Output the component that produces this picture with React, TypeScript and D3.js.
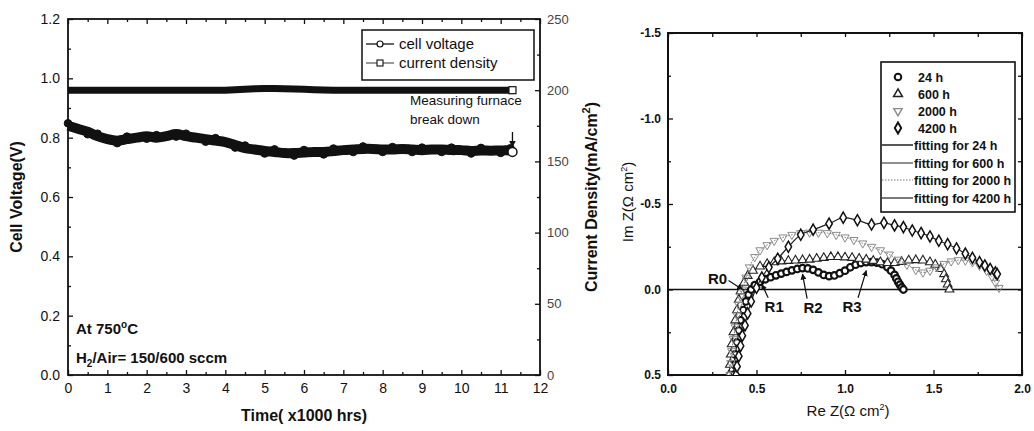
import React, { useRef, useEffect } from 'react';
import * as d3 from 'd3';

// long-term test: time (x1000 h), cell voltage (V), current density (mA/cm2)
const timeK = [0, 0.25, 0.5, 0.75, 1, 1.25, 1.5, 1.75, 2, 2.25, 2.5, 2.75, 3, 3.25, 3.5, 3.75, 4, 4.25, 4.5, 4.75, 5, 5.25, 5.5, 5.75, 6, 6.25, 6.5, 6.75, 7, 7.25, 7.5, 7.75, 8, 8.25, 8.5, 8.75, 9, 9.25, 9.5, 9.75, 10, 10.25, 10.5, 10.75, 11, 11.25, 11.3];
const voltage = [0.84, 0.83, 0.82, 0.805, 0.795, 0.79, 0.795, 0.8, 0.805, 0.8, 0.805, 0.812, 0.805, 0.8, 0.795, 0.79, 0.785, 0.775, 0.765, 0.76, 0.755, 0.752, 0.748, 0.748, 0.75, 0.752, 0.752, 0.755, 0.758, 0.76, 0.762, 0.762, 0.76, 0.76, 0.762, 0.76, 0.758, 0.76, 0.76, 0.758, 0.758, 0.755, 0.757, 0.756, 0.757, 0.756, 0.752];
const currentDensity = [200, 200, 200, 200, 200, 200, 200, 200, 200, 200, 200, 200, 200, 200, 200, 200, 200, 200.3, 200.6, 201, 201.2, 201.2, 201, 200.8, 200.6, 200.4, 200.2, 200, 200, 200, 200, 200, 200, 200, 200, 200, 200, 200, 200, 200, 200, 200, 200, 200, 200, 200, 200];

const timeTicks = [0, 1, 2, 3, 4, 5, 6, 7, 8, 9, 10, 11, 12];
const voltTicks = [0, 0.2, 0.4, 0.6, 0.8, 1.0, 1.2];
const currTicks = [0, 50, 100, 150, 200, 250];

// impedance spectra (Re Z, Im Z in ohm cm2)
const re24 = [0.37, 0.375, 0.38, 0.39, 0.4, 0.41, 0.425, 0.44, 0.455, 0.47, 0.49, 0.52, 0.55, 0.58, 0.61, 0.64, 0.67, 0.7, 0.73, 0.76, 0.79, 0.82, 0.85, 0.88, 0.91, 0.94, 0.97, 1.0, 1.03, 1.06, 1.09, 1.12, 1.15, 1.18, 1.21, 1.24, 1.26, 1.28, 1.29, 1.3, 1.31, 1.32, 1.33];
const im24 = [0.5, 0.44, 0.38, 0.31, 0.24, 0.18, 0.12, 0.07, 0.03, 0.0, -0.025, -0.045, -0.06, -0.072, -0.083, -0.093, -0.103, -0.112, -0.12, -0.125, -0.123, -0.115, -0.1, -0.085, -0.078, -0.082, -0.095, -0.11, -0.13, -0.145, -0.155, -0.16, -0.16, -0.157, -0.148, -0.13, -0.11, -0.085, -0.065, -0.045, -0.028, -0.012, 0.0];

const re600 = [0.345, 0.35, 0.355, 0.36, 0.37, 0.38, 0.39, 0.4, 0.41, 0.43, 0.45, 0.48, 0.52, 0.56, 0.6, 0.64, 0.68, 0.72, 0.76, 0.8, 0.84, 0.88, 0.92, 0.96, 1.0, 1.04, 1.08, 1.12, 1.16, 1.2, 1.24, 1.28, 1.32, 1.36, 1.4, 1.44, 1.48, 1.51, 1.54, 1.56, 1.57, 1.58, 1.59];
const im600 = [0.5, 0.44, 0.38, 0.32, 0.25, 0.18, 0.12, 0.06, 0.01, -0.04, -0.08, -0.11, -0.135, -0.15, -0.16, -0.165, -0.168, -0.17, -0.172, -0.175, -0.18, -0.185, -0.19, -0.19, -0.188, -0.185, -0.18, -0.175, -0.168, -0.16, -0.155, -0.155, -0.162, -0.17, -0.172, -0.17, -0.16, -0.145, -0.12, -0.09, -0.06, -0.03, 0.0];

const re2000 = [0.35, 0.355, 0.36, 0.37, 0.38, 0.39, 0.4, 0.41, 0.42, 0.44, 0.46, 0.49, 0.52, 0.56, 0.6, 0.65, 0.7, 0.75, 0.8, 0.85, 0.9, 0.95, 1.0, 1.05, 1.1, 1.15, 1.2, 1.25, 1.3, 1.35, 1.4, 1.44, 1.48, 1.52, 1.56, 1.6, 1.64, 1.68, 1.72, 1.76, 1.8, 1.83, 1.85, 1.87];
const im2000 = [0.5, 0.43, 0.36, 0.29, 0.22, 0.15, 0.09, 0.04, 0.0, -0.07, -0.13, -0.19, -0.23, -0.26, -0.285, -0.305, -0.32, -0.33, -0.333, -0.333, -0.33, -0.32, -0.305, -0.29, -0.27, -0.25, -0.23, -0.205, -0.175, -0.145, -0.115, -0.1, -0.11, -0.13, -0.15, -0.165, -0.172, -0.17, -0.16, -0.14, -0.11, -0.075, -0.04, -0.01];

const re4200 = [0.385, 0.39, 0.4, 0.41, 0.42, 0.435, 0.45, 0.47, 0.5, 0.53, 0.57, 0.62, 0.68, 0.75, 0.82, 0.91, 0.99, 1.07, 1.15, 1.22, 1.28, 1.33, 1.38, 1.43, 1.48, 1.53, 1.58, 1.63, 1.68, 1.72, 1.76, 1.79, 1.82, 1.85, 1.86];
const im4200 = [0.5, 0.45, 0.39, 0.33, 0.27, 0.21, 0.14, 0.07, -0.01, -0.07, -0.13, -0.18, -0.25, -0.32, -0.35, -0.385, -0.42, -0.405, -0.38, -0.39, -0.375, -0.365, -0.345, -0.33, -0.31, -0.285, -0.265, -0.24, -0.21, -0.185, -0.16, -0.14, -0.12, -0.1, -0.09];

const reTicks = [0, 0.5, 1.0, 1.5, 2.0];
const imTicks = [-1.5, -1.0, -0.5, 0.0, 0.5];

const resistLabels = [
  { name: 'R0', x: 0.28, y: -0.065, tx: 0.42, ty: 0.0 },
  { name: 'R1', x: 0.6, y: 0.095, tx: 0.53, ty: -0.03 },
  { name: 'R2', x: 0.82, y: 0.1, tx: 0.76, ty: -0.09 },
  { name: 'R3', x: 1.04, y: 0.095, tx: 1.12, ty: -0.11 },
];

const FONT = 'Liberation Sans, Arial, Helvetica, sans-serif';

const App = () => {
  const ref = useRef<SVGSVGElement>(null);

  useEffect(() => {
    const svg = d3.select(ref.current);
    svg.selectAll('*').remove();
    svg.style('font-family', FONT);

    const defs = svg.append('defs');
    defs.append('marker')
      .attr('id', 'arrow')
      .attr('viewBox', '0 0 10 10')
      .attr('refX', 9)
      .attr('refY', 5)
      .attr('markerWidth', 5)
      .attr('markerHeight', 5)
      .attr('orient', 'auto')
      .append('path')
      .attr('d', 'M0,0L10,5L0,10z')
      .attr('fill', '#111');

    // ---------- left chart ----------
    const x = d3.scaleLinear().domain([0, 12]).range([68, 540]);
    const yV = d3.scaleLinear().domain([0, 1.2]).range([375, 19]);
    const yC = d3.scaleLinear().domain([0, 250]).range([375, 19]);

    const left = svg.append('g');

    const styleAxis = (g, size, weight) => {
      g.select('.domain').remove();
      g.selectAll('line').attr('stroke', '#111').attr('stroke-width', 1.3);
      g.selectAll('text').attr('font-size', size).attr('font-weight', weight)
        .attr('font-family', FONT).attr('fill', '#111');
    };

    left.append('g').attr('transform', 'translate(0,375)')
      .call(d3.axisBottom(x).tickValues(timeTicks).tickSize(-5).tickPadding(8).tickFormat(d3.format('d')))
      .call(g => styleAxis(g, 14, 'normal'));
    left.append('g').attr('transform', 'translate(0,375)')
      .call(d3.axisBottom(x).tickValues(timeTicks.slice(0, -1).map(d => d + 0.5)).tickSize(-3).tickFormat(() => ''))
      .call(g => styleAxis(g, 14, 'normal'));
    left.append('g').attr('transform', 'translate(0,19)')
      .call(d3.axisTop(x).tickValues(timeTicks).tickSize(-5).tickFormat(() => ''))
      .call(g => styleAxis(g, 14, 'normal'));
    left.append('g').attr('transform', 'translate(0,19)')
      .call(d3.axisTop(x).tickValues(timeTicks.slice(0, -1).map(d => d + 0.5)).tickSize(-3).tickFormat(() => ''))
      .call(g => styleAxis(g, 14, 'normal'));
    left.append('g').attr('transform', 'translate(68,0)')
      .call(d3.axisLeft(yV).tickValues(voltTicks).tickSize(-5).tickPadding(8).tickFormat(d => (+d).toFixed(1)))
      .call(g => styleAxis(g, 14, 'normal'));
    left.append('g').attr('transform', 'translate(68,0)')
      .call(d3.axisLeft(yV).tickValues(voltTicks.slice(0, -1).map(d => d + 0.1)).tickSize(-3).tickFormat(() => ''))
      .call(g => styleAxis(g, 14, 'normal'));
    left.append('g').attr('transform', 'translate(540,0)')
      .call(d3.axisRight(yC).tickValues(currTicks).tickSize(-5).tickPadding(7).tickFormat(d3.format('d')))
      .call(g => styleAxis(g, 13, 'normal'))
      .call(g => g.selectAll('text').attr('fill', '#444'));
    left.append('g').attr('transform', 'translate(540,0)')
      .call(d3.axisRight(yC).tickValues(currTicks.slice(0, -1).map(d => d + 25)).tickSize(-3).tickFormat(() => ''))
      .call(g => styleAxis(g, 13, 'normal'));

    left.append('rect')
      .attr('x', 68).attr('y', 19).attr('width', 540 - 68).attr('height', 375 - 19)
      .attr('fill', 'none').attr('stroke', '#111').attr('stroke-width', 1.8);

    const curLine = d3.line<number>().x((d, i) => x(timeK[i])).y(d => yC(d));
    left.append('path').datum(currentDensity)
      .attr('d', curLine).attr('fill', 'none').attr('stroke', '#111').attr('stroke-width', 7);
    left.append('rect')
      .attr('x', x(timeK[timeK.length - 1]) - 3.5).attr('y', yC(currentDensity[currentDensity.length - 1]) - 3.5)
      .attr('width', 7).attr('height', 7).attr('fill', '#fff').attr('stroke', '#111').attr('stroke-width', 1.2);

    const voltLine = d3.line<number>().x((d, i) => x(timeK[i])).y(d => yV(d)).curve(d3.curveCatmullRom);
    left.append('path').datum(voltage)
      .attr('d', voltLine).attr('fill', 'none').attr('stroke', '#111').attr('stroke-width', 10)
      .attr('stroke-linejoin', 'round');
    left.append('g').selectAll('circle').data(voltage).enter().append('circle')
      .attr('cx', (d, i) => x(timeK[i])).attr('cy', (d, i) => yV(d) + ((i % 3) - 1) * 2.5)
      .attr('r', 3.8).attr('fill', '#111').attr('stroke', '#111');
    left.append('circle')
      .attr('cx', x(timeK[timeK.length - 1])).attr('cy', yV(voltage[voltage.length - 1]))
      .attr('r', 4.5).attr('fill', '#fff').attr('stroke', '#111').attr('stroke-width', 1.5);

    // legend
    const lg = left.append('g');
    lg.append('rect').attr('x', 362).attr('y', 30).attr('width', 172).attr('height', 50)
      .attr('fill', '#fff').attr('stroke', '#111').attr('stroke-width', 1.5);
    lg.append('line').attr('x1', 366).attr('x2', 394).attr('y1', 44).attr('y2', 44)
      .attr('stroke', '#111').attr('stroke-width', 1.3);
    lg.append('circle').attr('cx', 380).attr('cy', 44).attr('r', 3)
      .attr('fill', '#fff').attr('stroke', '#111').attr('stroke-width', 1.2);
    lg.append('line').attr('x1', 366).attr('x2', 394).attr('y1', 63).attr('y2', 63)
      .attr('stroke', '#555').attr('stroke-width', 1.2);
    lg.append('rect').attr('x', 377).attr('y', 60).attr('width', 6).attr('height', 6)
      .attr('fill', '#fff').attr('stroke', '#111').attr('stroke-width', 1.1);
    lg.append('text').attr('x', 399).attr('y', 49).attr('font-size', 15).attr('fill', '#111').text('cell voltage');
    lg.append('text').attr('x', 399).attr('y', 68).attr('font-size', 15).attr('fill', '#111').text('current density');

    // annotations
    left.append('text').attr('x', 410).attr('y', 105).attr('font-size', 13.5).attr('fill', '#111').text('Measuring furnace');
    left.append('text').attr('x', 410).attr('y', 124).attr('font-size', 13.5).attr('fill', '#111').text('break down');
    left.append('line')
      .attr('x1', x(11.3)).attr('x2', x(11.3)).attr('y1', 132).attr('y2', yV(0.752) - 5)
      .attr('stroke', '#111').attr('stroke-width', 1.3).attr('marker-end', 'url(#arrow)');

    const at = left.append('text').attr('x', 76).attr('y', 334).attr('font-size', 15).attr('font-weight', 'bold').attr('fill', '#111');
    at.append('tspan').text('At 750');
    at.append('tspan').attr('dy', -6).attr('font-size', 10).text('o');
    at.append('tspan').attr('dy', 6).text('C');
    const h2 = left.append('text').attr('x', 76).attr('y', 363).attr('font-size', 15).attr('font-weight', 'bold').attr('fill', '#111');
    h2.append('tspan').text('H');
    h2.append('tspan').attr('dy', 4).attr('font-size', 10).text('2');
    h2.append('tspan').attr('dy', -4).text('/Air= 150/600 sccm');

    left.append('text').attr('transform', 'translate(22,197) rotate(-90)')
      .attr('text-anchor', 'middle').attr('font-size', 16).attr('font-weight', 'bold').attr('fill', '#111')
      .text('Cell Voltage(V)');
    const cd = left.append('text').attr('transform', 'translate(597,197) rotate(-90)')
      .attr('text-anchor', 'middle').attr('font-size', 16).attr('font-weight', 'bold').attr('fill', '#111');
    cd.append('tspan').text('Current Density(mA/cm');
    cd.append('tspan').attr('dy', -7).attr('font-size', 11).text('2');
    cd.append('tspan').attr('dy', 7).text(')');
    left.append('text').attr('x', 304).attr('y', 421).attr('text-anchor', 'middle')
      .attr('font-size', 16).attr('font-weight', 'bold').attr('fill', '#111').text('Time( x1000 hrs)');

    // ---------- right chart ----------
    const xR = d3.scaleLinear().domain([0, 2]).range([668, 1022]);
    const yI = d3.scaleLinear().domain([-1.5, 0.5]).range([33, 375]);
    const right = svg.append('g');

    defs.append('clipPath').attr('id', 'nyq').append('rect')
      .attr('x', 668).attr('y', 33).attr('width', 1022 - 668).attr('height', 375 - 33);

    const minorRe = reTicks.slice(0, -1).map(d => d + 0.25);
    const minorIm = imTicks.slice(0, -1).map(d => d + 0.25);
    right.append('g').attr('transform', 'translate(0,375)')
      .call(d3.axisBottom(xR).tickValues(reTicks).tickSize(-5).tickPadding(9).tickFormat(d => (+d).toFixed(1)))
      .call(g => styleAxis(g, 12, 'bold'));
    right.append('g').attr('transform', 'translate(0,375)')
      .call(d3.axisBottom(xR).tickValues(minorRe).tickSize(-3).tickFormat(() => ''))
      .call(g => styleAxis(g, 12, 'bold'));
    right.append('g').attr('transform', 'translate(0,33)')
      .call(d3.axisTop(xR).tickValues(reTicks.concat(minorRe)).tickSize(-4).tickFormat(() => ''))
      .call(g => styleAxis(g, 12, 'bold'));
    right.append('g').attr('transform', 'translate(668,0)')
      .call(d3.axisLeft(yI).tickValues(imTicks).tickSize(-5).tickPadding(7).tickFormat(d => (+d).toFixed(1)))
      .call(g => styleAxis(g, 12, 'bold'));
    right.append('g').attr('transform', 'translate(668,0)')
      .call(d3.axisLeft(yI).tickValues(minorIm).tickSize(-3).tickFormat(() => ''))
      .call(g => styleAxis(g, 12, 'bold'));
    right.append('g').attr('transform', 'translate(1022,0)')
      .call(d3.axisRight(yI).tickValues(imTicks.concat(minorIm)).tickSize(-4).tickFormat(() => ''))
      .call(g => styleAxis(g, 12, 'bold'));

    right.append('rect')
      .attr('x', 668).attr('y', 33).attr('width', 1022 - 668).attr('height', 375 - 33)
      .attr('fill', 'none').attr('stroke', '#111').attr('stroke-width', 2);
    right.append('line')
      .attr('x1', 668).attr('x2', 1022).attr('y1', yI(0)).attr('y2', yI(0))
      .attr('stroke', '#111').attr('stroke-width', 1.3);

    const plot = right.append('g').attr('clip-path', 'url(#nyq)');

    const series = [
      { re: re24, im: im24, shape: d3.symbolCircle, size: 34, stroke: '#111', sw: 2.2, fitColor: '#111', fitW: 1.4, dash: null },
      { re: re600, im: im600, shape: d3.symbolTriangle, size: 34, stroke: '#222', sw: 1.1, fitColor: '#333', fitW: 1.1, dash: null },
      { re: re2000, im: im2000, shape: d3.symbolTriangle, size: 30, stroke: '#8a8a8a', sw: 1, fitColor: '#777', fitW: 1, dash: '1.5,1.5' },
      { re: re4200, im: im4200, shape: d3.symbolDiamond, size: 36, stroke: '#111', sw: 1.5, fitColor: '#222', fitW: 1.2, dash: null },
    ];

    series.forEach((s, k) => {
      const pts = s.re.map((r, i) => [r, s.im[i]]);
      const fit = d3.line<number[]>().x(d => xR(d[0])).y(d => yI(d[1])).curve(d3.curveCatmullRom);
      plot.append('path').datum(pts)
        .attr('d', fit).attr('fill', 'none').attr('stroke', s.fitColor).attr('stroke-width', s.fitW)
        .attr('stroke-dasharray', s.dash);
      plot.append('g').selectAll('path').data(pts).enter().append('path')
        .attr('d', d3.symbol().type(s.shape).size(s.size))
        .attr('transform', d => `translate(${xR(d[0])},${yI(d[1])})${k === 2 ? ' rotate(180)' : ''}`)
        .attr('fill', '#fff').attr('fill-opacity', k === 2 ? 0 : 1)
        .attr('stroke', s.stroke).attr('stroke-width', s.sw);
    });

    // resistance labels
    resistLabels.forEach(r => {
      right.append('text').attr('x', xR(r.x)).attr('y', yI(r.y) + 6).attr('text-anchor', 'middle')
        .attr('font-size', 15).attr('font-weight', 'bold').attr('fill', '#111').text(r.name);
    });
    resistLabels.forEach((r, i) => {
      const sx = i === 0 ? xR(r.x) + 11 : xR(r.x) + (r.tx > r.x ? 6 : -6);
      const sy = i === 0 ? yI(r.y) + 2 : yI(r.y) - 8;
      right.append('line').attr('x1', sx).attr('y1', sy).attr('x2', xR(r.tx)).attr('y2', yI(r.ty))
        .attr('stroke', '#111').attr('stroke-width', 1.2).attr('marker-end', 'url(#arrow)');
    });

    // legend
    const rl = right.append('g');
    rl.append('rect').attr('x', 881).attr('y', 62).attr('width', 134).attr('height', 150)
      .attr('fill', '#fff').attr('stroke', '#111').attr('stroke-width', 1.6);
    const legNames = ['24 h', '600 h', '2000 h', '4200 h'];
    const rowY = [77, 94, 111, 128];
    series.forEach((s, k) => {
      rl.append('path')
        .attr('d', d3.symbol().type(s.shape).size(s.size))
        .attr('transform', `translate(898,${rowY[k]})${k === 2 ? ' rotate(180)' : ''}`)
        .attr('fill', '#fff').attr('stroke', s.stroke).attr('stroke-width', k === 0 ? 2 : s.sw + 0.4);
      rl.append('text').attr('x', 918).attr('y', rowY[k] + 4.5).attr('font-size', 12.5)
        .attr('font-weight', 'bold').attr('fill', '#111').text(legNames[k]);
    });
    const fitY = [145, 163, 180, 198];
    series.forEach((s, k) => {
      rl.append('line').attr('x1', 882).attr('x2', 913).attr('y1', fitY[k]).attr('y2', fitY[k])
        .attr('stroke', s.fitColor).attr('stroke-width', s.fitW).attr('stroke-dasharray', s.dash);
      rl.append('text').attr('x', 914).attr('y', fitY[k] + 4.5).attr('font-size', 12.5)
        .attr('font-weight', 'bold').attr('fill', '#111').text(`fitting for ${legNames[k]}`);
    });

    const imLab = right.append('text').attr('transform', 'translate(633,202) rotate(-90)')
      .attr('text-anchor', 'middle').attr('font-size', 15).attr('fill', '#111');
    imLab.append('tspan').text('Im Z(\u03A9 cm');
    imLab.append('tspan').attr('dy', -6).attr('font-size', 9).text('2');
    imLab.append('tspan').attr('dy', 6).text(')');
    const reLab = right.append('text').attr('x', 848).attr('y', 416)
      .attr('text-anchor', 'middle').attr('font-size', 15).attr('fill', '#111');
    reLab.append('tspan').text('Re Z(\u03A9 cm');
    reLab.append('tspan').attr('dy', -6).attr('font-size', 9).text('2');
    reLab.append('tspan').attr('dy', 6).text(')');
  }, []);

  return (
    <svg ref={ref} width={1034} height={431}
      style={{ position: 'absolute', left: 0, top: 0, background: '#fff' }} />
  );
};

export default App;
